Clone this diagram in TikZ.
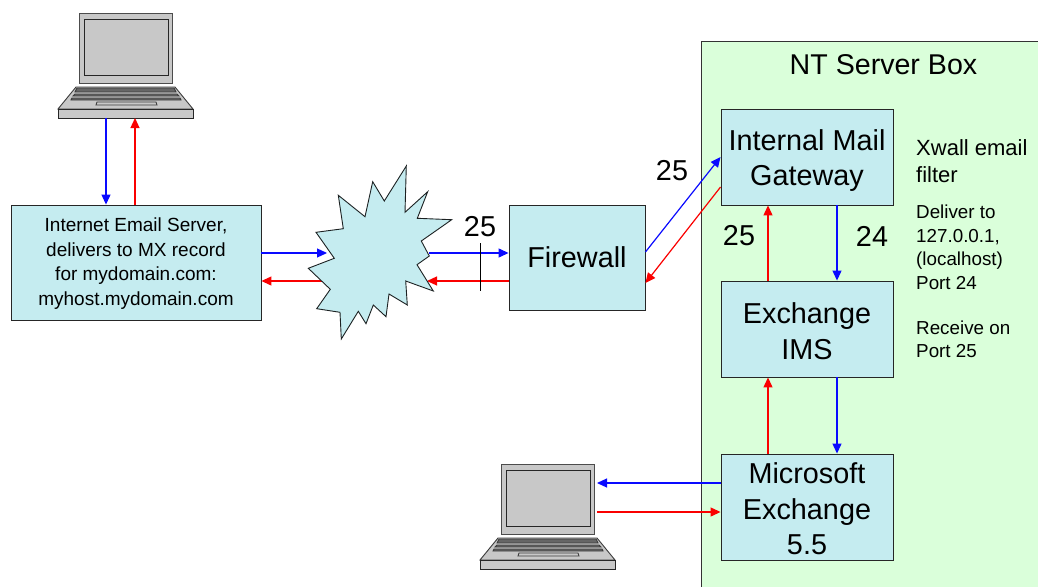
\documentclass[tikz,border=0pt]{standalone}
\usepackage{fontspec}
\setmainfont{Liberation Sans}
\usetikzlibrary{arrows.meta}
\definecolor{boxc}{RGB}{197,236,240}
\definecolor{greenc}{RGB}{218,255,218}
\definecolor{lapg}{RGB}{200,200,200}
\definecolor{lapd}{RGB}{60,60,60}
\definecolor{blu}{RGB}{10,10,255}
\definecolor{rd}{RGB}{250,0,0}
\tikzset{
  x=1pt,y=-1pt,
  srv/.style={draw=black!85,line width=0.9pt,fill=boxc,inner sep=0pt},
  srvtext/.style={inner sep=0pt,align=center,font=\fontsize{28.8}{35.5}\selectfont},
  lab/.style={inner sep=0pt,anchor=north west,align=left},
  num/.style={inner sep=0pt,font=\fontsize{28.8}{32}\selectfont},
  bluearrow/.style={draw=blu,line width=1.2pt,-{Triangle[length=10pt,width=9pt,fill=blu]}},
  redarrow/.style={draw=rd,line width=1.2pt,-{Triangle[length=10pt,width=9pt,fill=rd]}},
  lap/.style={draw=lapd,line width=0.9pt,fill=lapg},
  laptop/.pic={
    \draw[draw=black!70,line width=0.9pt,fill=lapg] (79,13) rectangle (172,83);
    \draw[draw=black!85,line width=0.9pt,fill=lapg] (84.5,19.5) rectangle (168,75);
    \draw[lap] (76,87) -- (175,87) -- (193,109) -- (58,109) -- cycle;
    \draw[lap,fill=black!60] (77,88) -- (174,88) -- (176,92) -- (75,92) -- cycle;
    \draw[lap,fill=black!60] (75,94) -- (177,94) -- (179,96) -- (73,96) -- cycle;
    \draw[lap,fill=black!60] (72,98) -- (180,98) -- (181,100) -- (71,100) -- cycle;
    \draw[lap,fill=lapg] (97,102) -- (156,102) -- (157,105) -- (96,105) -- cycle;
    \draw[draw=black!85,line width=0.9pt,fill=lapg] (58,109) rectangle (193,118);
  }
}
\begin{document}
\begin{tikzpicture}
\useasboundingbox (0,0) rectangle (1038,586);
\node[draw=black!80,line width=0.8pt,fill=greenc,minimum width=340pt,minimum height=548pt,inner sep=0pt,anchor=north west] (ntbox) at (701,41) {};
\node[inner sep=0pt,font=\fontsize{28.6}{32}\selectfont] (nttitle) at (883.5,64.5) {NT Server Box};
\pic at (0,0) {laptop};
\pic at (422,451) {laptop};
\coordinate (laptopA) at (106,118);
\coordinate (laptopB) at (135,118);
\coordinate (laptopCtop) at (597,483);
\coordinate (laptopCbot) at (597,512);
\node[srv,minimum width=250pt,minimum height=115pt,label={[srvtext,font=\fontsize{19}{24.5}\selectfont,yshift=-1pt]center:{Internet Email Server,\\delivers to MX record\\for mydomain.com:\\myhost.mydomain.com}}] (email) at (136,262.5) {};
\node[srv,srvtext,draw=black!85,minimum width=136pt,minimum height=105pt] (fw) at (577,257.5) {Firewall};
\node[srv,minimum width=172pt,minimum height=96pt,label={[srvtext,yshift=-3.5pt]center:{Internal Mail\\Gateway}}] (gw) at (807,157) {};
\node[srv,minimum width=172pt,minimum height=96pt,label={[srvtext,yshift=-2pt]center:{Exchange\\IMS}}] (ims) at (807,329) {};
\node[srv,minimum width=172pt,minimum height=106pt,label={[srvtext,yshift=-2pt]center:{Microsoft\\Exchange\\5.5}}] (mx) at (807,507) {};
\coordinate (netin1) at (327,253);
\coordinate (netin2) at (327,281);
\coordinate (netout1) at (429,253);
\coordinate (netout2) at (427,281);
\draw[bluearrow] (laptopA) -- (laptopA |- email.north);
\draw[redarrow] (laptopB |- email.north) -- (laptopB);
\draw[bluearrow] (email.east |- netin1) -- (netin1);
\draw[rd,line width=1.2pt] (netin2) -- (345,281);
\draw[redarrow] (netin2) -- (email.east |- netin2);
\draw[bluearrow] (netout1) -- (fw.west |- netout1);
\draw[redarrow] (fw.west |- netout2) -- (netout2);
\draw[black,line width=0.8pt] (480,243) coordinate (tickA) -- (480,291) coordinate (tickB);
\draw[fill=boxc,draw=black!65!boxc!40!black,line width=0.9pt] (406.3,166) -- (405,212.3) -- (427.7,191.7) -- (417.3,218.3) -- (451.7,219.7) -- (421.3,241) -- (429.3,256) -- (417,264.7) -- (433.3,291) -- (405.7,281) -- (407.3,305) -- (389,294) -- (386,316.7) -- (373.3,305) -- (366,323.7) -- (358.3,311.3) -- (341.3,339) -- (340,312.3) -- (316.7,308.7) -- (330.3,289.3) -- (308.3,268.3) -- (334.3,258.3) -- (316,232.3) -- (343.3,228.7) -- (338.3,195.3) -- (365,216.7) -- (372.7,181.7) -- (384.3,201) -- cycle;
\node[num] (p25a) at (480,227) {25};
\node[num] (p25b) at (672,171) {25};
\node[num] (p25c) at (739,236) {25};
\node[num] (p24) at (872,236) {24};
\draw[bluearrow] (fw.east |- 0,252) -- (gw.west |- 0,157);
\draw[redarrow] (gw.west |- 0,187) -- (fw.east |- 0,283);
\draw[bluearrow] (gw.south -| 837,0) -- (ims.north -| 837,0);
\draw[redarrow] (ims.north -| 768,0) -- (gw.south -| 768,0);
\draw[redarrow] (mx.north -| 768,0) -- (ims.south -| 768,0);
\draw[bluearrow] (ims.south -| 837,0) -- (mx.north -| 837,0);
\draw[bluearrow] (mx.west |- laptopCtop) -- (laptopCtop);
\draw[redarrow] (laptopCbot) -- (mx.west |- laptopCbot);
\node[lab,font=\fontsize{22}{27}\selectfont] (xwall) at (916,139.5) {Xwall email\\filter};
\node[lab,font=\fontsize{18.8}{23.5}\selectfont] (deliver) at (916,205) {Deliver to\\127.0.0.1,\\(localhost)\\Port 24};
\node[lab,font=\fontsize{18.8}{23.5}\selectfont] (receive) at (916,320.5) {Receive on\\Port 25};
\end{tikzpicture}
\end{document}
